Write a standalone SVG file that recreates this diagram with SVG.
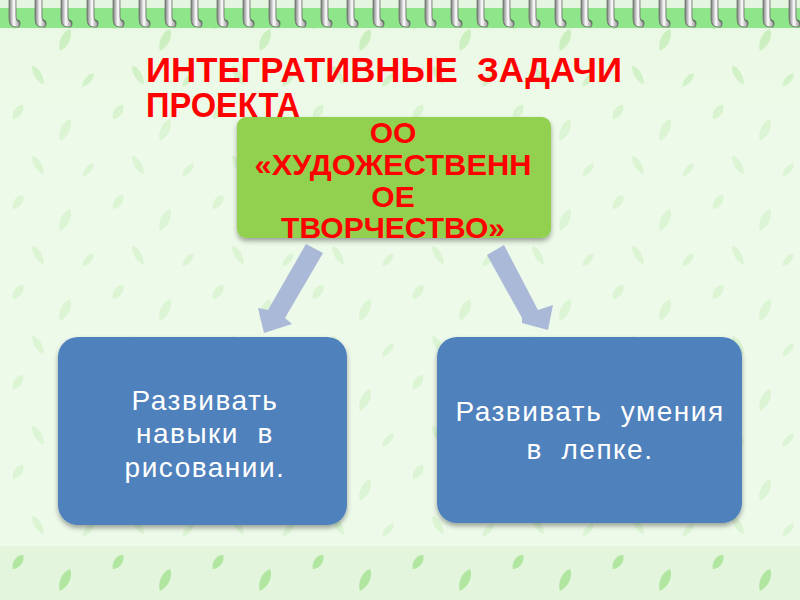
<svg xmlns="http://www.w3.org/2000/svg" xmlns:xlink="http://www.w3.org/1999/xlink" width="800" height="600" viewBox="0 0 800 600">
  <defs>
    <style>
      .title { font-family: "Liberation Sans", Arial, sans-serif; font-weight: bold; font-size: 35px; fill: #ff0000; }
      .gtext { font-family: "Liberation Sans", Arial, sans-serif; font-weight: bold; font-size: 30px; fill: #ff0000; text-anchor: middle; }
      .btext { font-family: "Liberation Sans", Arial, sans-serif; font-size: 28px; letter-spacing: 1.5px; fill: #ffffff; text-anchor: middle; }
      .arrow { fill: #aab9d8; }
      .leaf { fill: #8fdc78; }
    </style>
    <linearGradient id="ringGrad" x1="0" y1="0" x2="1" y2="0">
      <stop offset="0" stop-color="#7a7a7a"/>
      <stop offset="0.45" stop-color="#ffffff"/>
      <stop offset="1" stop-color="#8a8a8a"/>
    </linearGradient>
    <symbol id="ring" overflow="visible">
      <ellipse cx="1" cy="23" rx="5.5" ry="4" fill="#4a5a4a" opacity="0.75"/>
      <path d="M-5,-2 L-5,18 Q-5,27 2,27 L5,27 Q7,24 5,22 Q2,21 2,17 L2,-2 Z" fill="url(#ringGrad)" stroke="#666" stroke-width="0.7"/>
    </symbol>
    <path id="lf" d="M0,-11 C6,-6 6,5 0,11 C-6,5 -6,-6 0,-11 Z"/>
    <pattern id="leaves" x="0" y="0" width="100" height="90" patternUnits="userSpaceOnUse">
      <use href="#lf" class="leaf" transform="translate(18,22) rotate(35) scale(0.9,0.8)"/>
      <use href="#lf" class="leaf" transform="translate(65,40) rotate(25) scale(1,1.1)"/>
      <use href="#lf" class="leaf" transform="translate(38,75) rotate(-30) scale(0.8,1)"/>
      <use href="#lf" class="leaf" transform="translate(88,80) rotate(40) scale(0.7,0.8)"/>
    </pattern>
    <linearGradient id="veil" x1="0" y1="0" x2="0" y2="1">
      <stop offset="0" stop-color="#f2fcef" stop-opacity="0.2"/>
      <stop offset="0.2" stop-color="#f2fcef" stop-opacity="0.55"/>
      <stop offset="1" stop-color="#f2fcef" stop-opacity="0.55"/>
    </linearGradient>
    <filter id="shadow" x="-10%" y="-10%" width="120%" height="125%">
      <feDropShadow dx="0" dy="3" stdDeviation="2.5" flood-color="#000" flood-opacity="0.35"/>
    </filter>
  </defs>

  <!-- background -->
  <rect x="0" y="0" width="800" height="600" fill="#e8f8e2"/>
  <rect x="0" y="28" width="800" height="572" fill="url(#leaves)" opacity="0.45"/>
  <rect x="0" y="28" width="800" height="518" fill="url(#veil)"/>
  <rect x="0" y="546" width="800" height="54" fill="#dff3d8" opacity="0.6"/>
  <rect x="0" y="546" width="800" height="54" fill="url(#leaves)" opacity="0.5"/>
  <!-- top binding strip -->
  <rect x="0" y="0" width="800" height="8" fill="#e4f6e0"/>
  <rect x="0" y="8" width="800" height="20" fill="#8fe58a"/>
  <g id="binding">
    <use href="#ring" x="14" y="0"/><use href="#ring" x="40" y="0"/><use href="#ring" x="66" y="0"/>
    <use href="#ring" x="92" y="0"/><use href="#ring" x="118" y="0"/><use href="#ring" x="144" y="0"/>
    <use href="#ring" x="170" y="0"/><use href="#ring" x="196" y="0"/><use href="#ring" x="222" y="0"/>
    <use href="#ring" x="248" y="0"/><use href="#ring" x="274" y="0"/><use href="#ring" x="300" y="0"/>
    <use href="#ring" x="326" y="0"/><use href="#ring" x="352" y="0"/><use href="#ring" x="378" y="0"/>
    <use href="#ring" x="404" y="0"/><use href="#ring" x="430" y="0"/><use href="#ring" x="456" y="0"/>
    <use href="#ring" x="482" y="0"/><use href="#ring" x="508" y="0"/><use href="#ring" x="534" y="0"/>
    <use href="#ring" x="560" y="0"/><use href="#ring" x="586" y="0"/><use href="#ring" x="612" y="0"/>
    <use href="#ring" x="638" y="0"/><use href="#ring" x="664" y="0"/><use href="#ring" x="690" y="0"/>
    <use href="#ring" x="716" y="0"/><use href="#ring" x="742" y="0"/><use href="#ring" x="768" y="0"/>
    <use href="#ring" x="794" y="0"/>
  </g>

  <!-- title -->
  <g id="title">
    <text class="title" x="146" y="82" xml:space="preserve" textLength="476" lengthAdjust="spacingAndGlyphs">ИНТЕГРАТИВНЫЕ  ЗАДАЧИ</text>
    <text class="title" x="146" y="117" textLength="154" lengthAdjust="spacingAndGlyphs">ПРОЕКТА</text>
  </g>

  <!-- connectors -->
  <g id="connectors">
    <polygon class="arrow" points="306,244 323,253 285,318 292,324 264,333 258,308 268,310"/>
    <polygon class="arrow" points="487,255 504,245 538,310 553,305 548,330 522,323 522,318"/>
  </g>

  <!-- nodes -->
  <g id="node-top">
    <rect x="237" y="117" width="314" height="121" rx="9" fill="#92d050" filter="url(#shadow)"/>
    <text class="gtext" x="393" y="143">ОО</text>
    <text class="gtext" x="393" y="175" textLength="277" lengthAdjust="spacingAndGlyphs">«ХУДОЖЕСТВЕНН</text>
    <text class="gtext" x="393" y="207">ОЕ</text>
    <text class="gtext" x="393" y="238">ТВОРЧЕСТВО»</text>
  </g>
  <g id="node-left">
    <rect x="58" y="337" width="289" height="188" rx="20" fill="#4f81bd" filter="url(#shadow)"/>
    <text class="btext" x="205" y="410">Развивать</text>
    <text class="btext" x="205" y="443" xml:space="preserve">навыки  в</text>
    <text class="btext" x="205" y="477">рисовании.</text>
  </g>
  <g id="node-right">
    <rect x="437" y="337" width="305" height="186" rx="20" fill="#4f81bd" filter="url(#shadow)"/>
    <text class="btext" x="590" y="421" xml:space="preserve">Развивать  умения</text>
    <text class="btext" x="590" y="459" xml:space="preserve">в  лепке.</text>
  </g>
</svg>
